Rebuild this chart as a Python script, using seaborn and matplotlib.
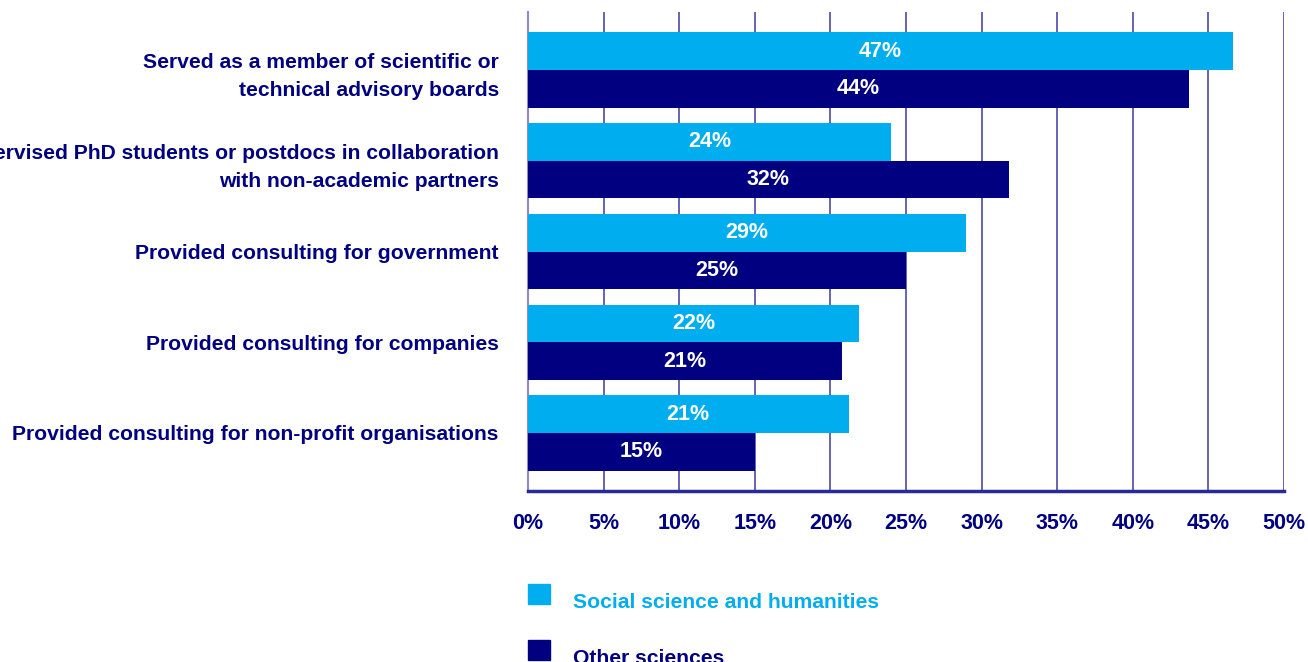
import numpy as np
import pandas as pd
import matplotlib
matplotlib.use("Agg")
import matplotlib.pyplot as plt
import matplotlib.patches as mpatches
import seaborn as sns

# data
activities = [
    "Served as a member of scientific or\ntechnical advisory boards",
    "Supervised PhD students or postdocs in collaboration\nwith non-academic partners",
    "Provided consulting for government",
    "Provided consulting for companies",
    "Provided consulting for non-profit organisations",
]
groups = ["Social science and humanities", "Other sciences"]
social_sci = [46.6, 24.0, 29.0, 21.9, 21.2]
other_sci = [43.7, 31.8, 25.0, 20.8, 15.0]
x_ticks = [0, 5, 10, 15, 20, 25, 30, 35, 40, 45, 50]

NAVY = "#000080"
CYAN = "#00AEEF"
GRID = "#3c3c9c"

df = pd.DataFrame({
    "activity": activities * 2,
    "group": [groups[0]] * len(activities) + [groups[1]] * len(activities),
    "share": social_sci + other_sci,
})

sns.set_theme(style="white")
plt.rcParams["font.family"] = ["Liberation Sans", "DejaVu Sans"]

fig = plt.figure(figsize=(13.08, 6.62), dpi=100)
ax = fig.add_axes([528 / 1308, 1 - 491 / 662, (1284 - 528) / 1308, (491 - 12) / 662])

sns.barplot(data=df, y="activity", x="share", hue="group", orient="h",
            palette=[CYAN, NAVY], width=0.83, gap=0, saturation=1,
            linewidth=0, ax=ax, legend=False, zorder=3)

for cont in ax.containers:
    vals = cont.datavalues
    ax.bar_label(cont, labels=[f"{v:.0f}%" for v in vals], label_type="center",
                 color="white", fontsize=15.5, fontweight="bold")

ax.set_xlim(0, 50)
ax.set_ylim(4.64, -0.64)
ax.set_xticks(x_ticks)
ax.set_xticklabels([f"{t}%" for t in x_ticks])
ax.xaxis.grid(True, color=GRID, linewidth=1.1, zorder=0)
ax.yaxis.grid(False)
ax.set_axisbelow(True)
ax.set_xlabel("")
ax.set_ylabel("")

ax.tick_params(axis="x", length=0, pad=16, labelsize=15.5, labelcolor=NAVY)
ax.tick_params(axis="y", length=0, pad=21, labelsize=15.2, labelcolor=NAVY)
for lab in ax.get_xticklabels() + ax.get_yticklabels():
    lab.set_fontweight("bold")
for lab in ax.get_yticklabels():
    lab.set_linespacing(1.6)

for side in ["top", "right"]:
    ax.spines[side].set_visible(False)
ax.spines["left"].set_color("#8a8acc")
ax.spines["left"].set_linewidth(1.5)
ax.spines["bottom"].set_color("#2a2a96")
ax.spines["bottom"].set_linewidth(2.5)

handles = [mpatches.Patch(color=CYAN, label=groups[0]),
           mpatches.Patch(color=NAVY, label=groups[1])]
leg = fig.legend(handles=handles, loc="upper left",
                 bbox_to_anchor=(509 / 1308, 1 - 565 / 662), frameon=False,
                 handlelength=1.05, handleheight=1.05, handletextpad=1.1,
                 labelspacing=1.68, prop={"size": 15.2, "weight": "bold"})
for txt, col in zip(leg.get_texts(), [CYAN, NAVY]):
    txt.set_color(col)
    txt.set_y(-7)  # text sits a bit lower than the colour square

fig.savefig("out.png", dpi=100)
